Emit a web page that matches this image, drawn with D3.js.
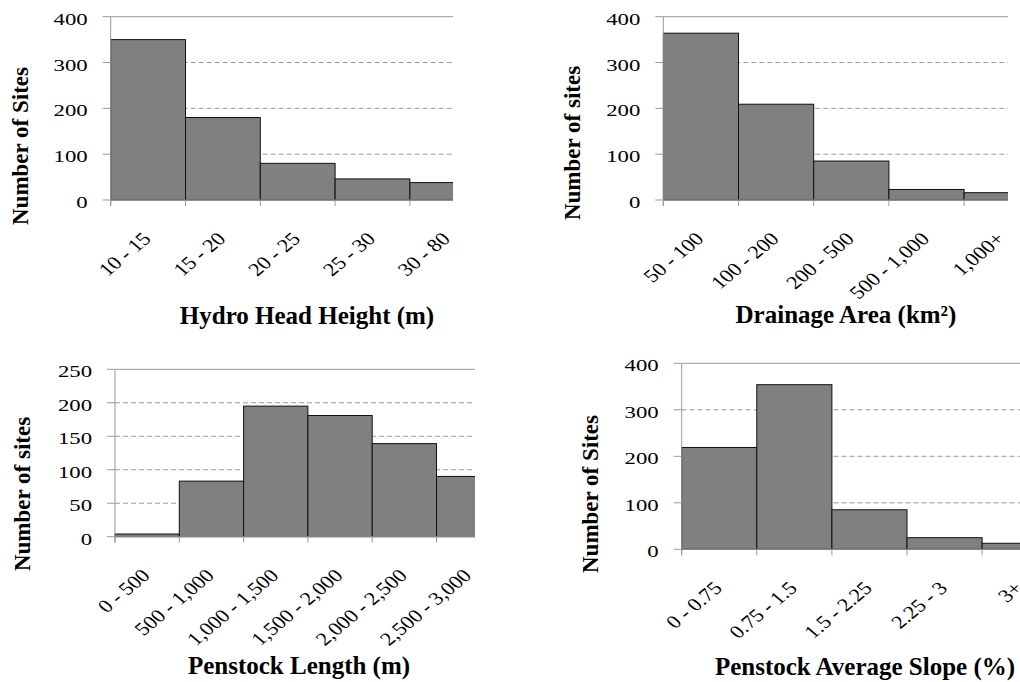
<!DOCTYPE html>
<html>
<head>
<meta charset="UTF-8">
<script src="https://cdnjs.cloudflare.com/ajax/libs/d3/7.8.5/d3.min.js"></script>
<style>
  body { margin: 0; background: #fff; }
  svg { display: block; }
</style>
</head>
<body>
<svg id="canvas" width="1020" height="682"></svg>
<script>
// data
const headBins = ["10 - 15", "15 - 20", "20 - 25", "25 - 30", "30 - 80"];
const headSites = [350, 180, 80, 46, 38];

const areaBins = ["50 - 100", "100 - 200", "200 - 500", "500 - 1,000", "1,000+"];
const areaSites = [364, 209, 85, 23, 16];

const lengthBins = ["0 - 500", "500 - 1,000", "1,000 - 1,500", "1,500 - 2,000", "2,000 - 2,500", "2,500 - 3,000"];
const lengthSites = [4, 83, 195, 181, 139, 90];

const slopeBins = ["0 - 0.75", "0.75 - 1.5", "1.5 - 2.25", "2.25 - 3", "3+"];
const slopeSites = [219, 354, 85, 25, 13];

const ticks400 = [0, 100, 200, 300, 400];
const ticks250 = [0, 50, 100, 150, 200, 250];

// layout per panel (plot left, bin width, clip right, y of 0 and of max)
const panels = [
  { bins: headBins, values: headSites, ticks: ticks400, x0: 110.7, bw: 74.8, right: 453, y0: 200, y1: 16.7,
    yTitle: "Number of Sites", yt: [20, 146], xTitle: "Hydro Head Height (m)", xt: [307, 324] },
  { bins: areaBins, values: areaSites, ticks: ticks400, x0: 663.3, bw: 75.2, right: 1008, y0: 200, y1: 16.7,
    yTitle: "Number of sites", yt: [572, 143], xTitle: "Drainage Area (km\u00B2)", xt: [846, 323] },
  { bins: lengthBins, values: lengthSites, ticks: ticks250, x0: 115, bw: 64.3, right: 475, y0: 536.7, y1: 369.3,
    yTitle: "Number of sites", yt: [22, 494], xTitle: "Penstock Length (m)", xt: [299, 674] },
  { bins: slopeBins, values: slopeSites, ticks: ticks400, x0: 681.7, bw: 75.1, right: 1020, y0: 549.3, y1: 363.3,
    yTitle: "Number of Sites", yt: [590, 494], xTitle: "Penstock Average Slope (%)", xt: [865, 675] }
];

const font = "'Liberation Serif', 'DejaVu Serif', serif";
const svg = d3.select("#canvas");
const sy = 1.3;  // y labels are stretched sideways in the source
const sx = 1.2;  // so are the slanted bin labels

panels.forEach((p, k) => {
  const n = p.bins.length;
  const x = d3.scaleBand().domain(p.bins).range([p.x0, p.x0 + p.bw * n]).padding(0);
  const ymax = p.ticks[p.ticks.length - 1];
  const y = d3.scaleLinear().domain([0, ymax]).range([p.y0, p.y1]);

  svg.append("clipPath").attr("id", "clip" + k)
    .append("rect")
    .attr("x", p.x0 - 1).attr("y", p.y1 - 2)
    .attr("width", p.right - p.x0 + 1).attr("height", p.y0 - p.y1 + 4);

  const g = svg.append("g").attr("font-family", font);
  const plot = g.append("g").attr("clip-path", "url(#clip" + k + ")");

  // grid lines
  plot.selectAll("line.grid")
    .data(p.ticks.filter(t => t > 0))
    .enter().append("line")
      .attr("x1", p.x0).attr("x2", p.right)
      .attr("y1", d => y(d)).attr("y2", d => y(d))
      .attr("stroke", "#999")
      .attr("stroke-width", 1)
      .attr("stroke-dasharray", d => d === ymax ? null : "5,3");

  // bars
  plot.selectAll("rect.bar")
    .data(p.values)
    .enter().append("rect")
      .attr("x", (d, i) => x(p.bins[i]))
      .attr("y", d => y(d))
      .attr("width", x.bandwidth())
      .attr("height", d => p.y0 - y(d))
      .attr("fill", "#808080")
      .attr("stroke", "#111")
      .attr("stroke-width", 1);

  // axes
  plot.append("line")
    .attr("x1", p.x0).attr("x2", p.right)
    .attr("y1", p.y0).attr("y2", p.y0)
    .attr("stroke", "#999");

  g.append("line")
    .attr("x1", p.x0).attr("x2", p.x0)
    .attr("y1", p.y1).attr("y2", p.y0 + 6)
    .attr("stroke", "#999");

  g.selectAll("line.ytick")
    .data(p.ticks)
    .enter().append("line")
      .attr("x1", p.x0 - 8).attr("x2", p.x0)
      .attr("y1", d => y(d)).attr("y2", d => y(d))
      .attr("stroke", "#999");

  const edges = d3.range(n + 1).map(i => p.x0 + i * x.step()).filter(v => v <= p.right + 0.5);
  g.selectAll("line.xtick")
    .data(edges)
    .enter().append("line")
      .attr("x1", d => d).attr("x2", d => d)
      .attr("y1", p.y0).attr("y2", p.y0 + 6)
      .attr("stroke", "#999");

  // tick labels
  g.selectAll("text.ylab")
    .data(p.ticks)
    .enter().append("text")
      .attr("transform", d => "translate(" + (p.x0 - 23) + "," + (y(d) + 8) + ") scale(" + sy + ",1)")
      .attr("text-anchor", "end")
      .style("font-size", "17.5px")
      .text(d => d);

  g.selectAll("text.xlab")
    .data(p.bins)
    .enter().append("text")
      .attr("transform", d => "translate(" + (x(d) + x.bandwidth() / 2 + 4) + "," + (p.y0 + 40) + ") scale(" + sx + ",1) rotate(-45)")
      .attr("text-anchor", "end")
      .style("font-size", "18.5px")
      .text(d => d);

  // titles
  g.append("text")
    .attr("transform", "translate(" + p.yt[0] + "," + p.yt[1] + ") rotate(-90)")
    .attr("text-anchor", "middle")
    .attr("dy", "0.35em")
    .style("font-size", "23px")
    .style("font-weight", "bold")
    .text(p.yTitle);

  g.append("text")
    .attr("x", p.xt[0]).attr("y", p.xt[1])
    .attr("text-anchor", "middle")
    .style("font-size", "25px")
    .style("font-weight", "bold")
    .text(p.xTitle);
});
</script>
</body>
</html>
